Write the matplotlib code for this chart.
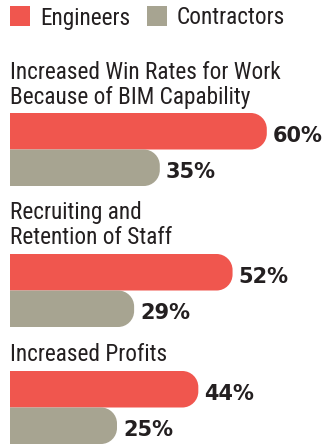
import matplotlib
matplotlib.use("Agg")
import matplotlib.pyplot as plt
from matplotlib import font_manager as fm
from matplotlib.patches import PathPatch, Rectangle
from matplotlib.path import Path

# Survey results: share of respondents reporting each benefit (%)
categories = [
    "Increased Win Rates for Work\nBecause of BIM Capability",
    "Recruiting and\nRetention of Staff",
    "Increased Profits",
]
series_names = ["Engineers", "Contractors"]
engineers = [60, 52, 44]
contractors = [35, 29, 25]

COLORS = ["#F0564E", "#A7A491"]
TEXT = "#231F20"


def pick_narrow_font():
    """Return a FontProperties for a condensed sans face if one is installed."""
    prefs = ["Liberation Sans Narrow", "Roboto Condensed", "Open Sans Condensed",
             "DejaVu Sans Condensed", "Noto Sans Condensed"]
    regular = [f for f in fm.fontManager.ttflist
               if f.style == "normal" and f.weight in (400, "normal", "regular", "book")]
    for p in prefs:
        for f in regular:
            if f.name == p:
                return fm.FontProperties(fname=f.fname)
    for f in regular:
        if f.stretch in ("condensed", "semi-condensed", "extra-condensed") or \
                "Narrow" in f.name or "Condensed" in f.name:
            return fm.FontProperties(fname=f.fname)
    return fm.FontProperties(family="DejaVu Sans")


W, H = 325, 444
PX_PER_PCT = 4.28          # horizontal scale
X0_PX = 10                 # left edge of bars

fig = plt.figure(figsize=(W / 100, H / 100), dpi=100)
ax = fig.add_axes([0, 0, 1, 1])
ax.set_xlim(-X0_PX / PX_PER_PCT, (W - X0_PX) / PX_PER_PCT)
ax.set_ylim(H, 0)          # vertical axis in pixel rows, top down
ax.axis("off")

# size the label face so the longest title line spans ~273 px
label_fp = pick_narrow_font()
renderer = fig.canvas.get_renderer()
probe = ax.text(0, 0, "Increased Win Rates for Work", fontproperties=label_fp, fontsize=14)
w = probe.get_window_extent(renderer).width
probe.remove()
label_size = 14 * 273 / w
label_fp.set_size(label_size)

BAR_H = 36.5
RADIUS_PX = 16
r_x = RADIUS_PX / PX_PER_PCT
K = 0.5523


def rounded_bar(y_top, value, color):
    # bar with square left end and rounded right end
    x1 = value
    y0, y1 = y_top, y_top + BAR_H
    ry = RADIUS_PX
    verts = [(0, y0), (x1 - r_x, y0),
             (x1 - r_x + K * r_x, y0), (x1, y0 + ry - K * ry), (x1, y0 + ry),
             (x1, y1 - ry),
             (x1, y1 - ry + K * ry), (x1 - r_x + K * r_x, y1), (x1 - r_x, y1),
             (0, y1), (0, y0)]
    codes = [Path.MOVETO, Path.LINETO,
             Path.CURVE4, Path.CURVE4, Path.CURVE4,
             Path.LINETO,
             Path.CURVE4, Path.CURVE4, Path.CURVE4,
             Path.LINETO, Path.CLOSEPOLY]
    ax.add_patch(PathPatch(Path(verts, codes), facecolor=color,
                           edgecolor="none", linewidth=0))
    ax.text(value + 6 / PX_PER_PCT, y_top + BAR_H / 2 + 10.5, f"{value}%",
            ha="left", va="baseline", fontsize=15, fontweight="bold",
            family="DejaVu Sans", color=TEXT)


# legend
leg_x = [0, 137 / PX_PER_PCT]
for name, color, lx in zip(series_names, COLORS, leg_x):
    ax.add_patch(Rectangle((lx, 6), 20 / PX_PER_PCT, 20,
                           facecolor=color, edgecolor="none"))
    ax.text(lx + 30 / PX_PER_PCT, 24.5, name, ha="left", va="baseline",
            fontproperties=label_fp, color=TEXT)

# groups: title baseline of last line, red bar top
title_baselines = [104, 244, 361]
bar_tops = [113, 254, 371]
for cat, e, c, tb, bt in zip(categories, engineers, contractors,
                             title_baselines, bar_tops):
    ax.text(0, tb, cat, ha="left", va="baseline", fontproperties=label_fp,
            color=TEXT, linespacing=1.1)
    rounded_bar(bt, e, COLORS[0])
    rounded_bar(bt + BAR_H, c, COLORS[1])

fig.savefig("out.png", dpi=100, facecolor="white")
